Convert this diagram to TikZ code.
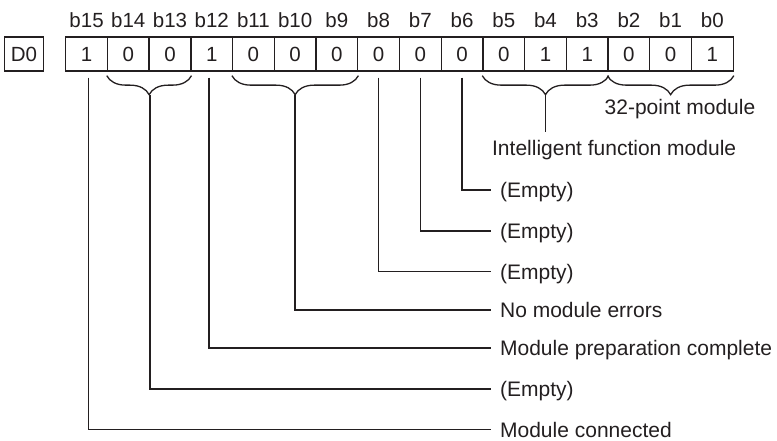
\documentclass[tikz,border=0pt]{standalone}
\usepackage{fontspec}
\setmainfont{Liberation Sans}
\usetikzlibrary{decorations.pathreplacing,calc}
\definecolor{ink}{RGB}{35,31,32}
\begin{document}
\begin{tikzpicture}[x=1pt,y=-1pt, line width=1.3pt, color=ink,
  cell/.style={draw, minimum width=41.72pt, minimum height=34pt, inner sep=0pt, font=\fontsize{20.5}{24}\selectfont},
  bitlab/.style={anchor=base, inner sep=0pt, font=\fontsize{20.5}{24}\selectfont},
  lab/.style={anchor=west, inner xsep=8.5pt, inner ysep=0pt, text height=15pt, text depth=0pt, font=\fontsize{21}{25}\selectfont},
  txt/.style={anchor=base west, inner sep=0pt, font=\fontsize{21}{25}\selectfont},
  brc/.style={decorate, decoration={brace, mirror, amplitude=19pt}},
  conn/.style={line width=1.6pt}]
\useasboundingbox (0,0) rectangle (777,441);
\node[cell, minimum width=38.6pt] (d0) at (24,54) {D0};
\foreach \b/\v [count=\k from 0] in {15/1,14/0,13/0,12/1,11/0,10/0,9/0,8/0,7/0,6/0,5/0,4/1,3/1,2/0,1/0,0/1}{
  \node[cell] (c\b) at ({86.56+41.72*\k},54) {\v};
  \node[bitlab] (b\b) at ({86.56+41.72*\k},27.7) {b\b};
}
% braces
\draw[brc] ([yshift=-4pt]c14.south west) -- ([yshift=-4pt]c13.south east);
\draw[brc] ([yshift=-4pt]c11.south west) -- ([yshift=-4pt]c9.south east);
\draw[brc] ([yshift=-4pt]c5.south west) -- ([yshift=-4pt]c3.south east);
\draw[brc] ([yshift=-4pt]c2.south west) -- ([yshift=-4pt]c0.south east);
\coordinate (t14) at ($(c14.south east)+(0,23)$);
\coordinate (t10) at ($(c10.south)+(0,23)$);
\coordinate (t4) at ($(c4.south)+(0,23)$);
\coordinate (t1) at ($(c1.south)+(0,23)$);
% labels
\node[txt] (l1) at (604,115) {32-point module};
\node[txt] (l4) at (491.5,156) {Intelligent function module};
\node[lab] (l6) at (491,190) {(Empty)};
\node[lab] (l7) at (491,231) {(Empty)};
\node[lab] (l8) at (491,271.5) {(Empty)};
\node[lab] (l10) at (491,310) {No module errors};
\node[lab] (l12) at (491,348) {Module preparation complete};
\node[lab] (l14) at (491,389) {(Empty)};
\node[lab] (l15) at (491,429.5) {Module connected};
% connectors
\draw[conn, shorten >=7.7pt] (t4) -- (t4 |- l4.north);
\draw[conn] ([yshift=-6pt]c6.south) |- (l6.west);
\draw[conn] ([yshift=-6pt]c7.south) |- (l7.west);
\draw[conn] ([yshift=-6pt]c8.south) |- (l8.west);
\draw[conn] (t10) |- (l10.west);
\draw[conn] ([yshift=-6pt,xshift=-2.5pt]c12.south) |- (l12.west);
\draw[conn] (t14) |- (l14.west);
\draw[conn] ([yshift=-6pt,xshift=2pt]c15.south) |- (l15.west);
\end{tikzpicture}
\end{document}
